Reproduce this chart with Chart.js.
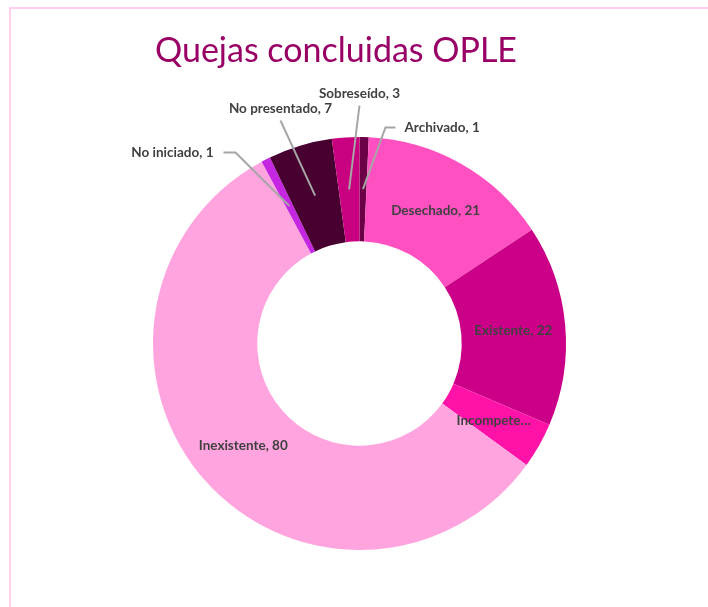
<!DOCTYPE html>
<html>
<head>
<meta charset="utf-8">
<script src="https://cdn.jsdelivr.net/npm/chart.js@4.4.1/dist/chart.umd.min.js"></script>
<style>
  html, body { margin: 0; padding: 0; background: #fff; }
  #wrap { position: relative; width: 708px; height: 607px; overflow: hidden; }
  #frame {
    position: absolute; left: 9px; top: 7px; right: -10px; bottom: -10px;
    border-top: 2px solid #ffd0ee; border-left: 2px solid #ffd0ee;
  }
  #chart { position: absolute; left: 0; top: 0; }
</style>
</head>
<body>
<div id="wrap">
  <div id="frame"></div>
  <canvas id="chart" width="708" height="607"></canvas>
</div>
<script>
// Data
const categories = ['Archivado', 'Desechado', 'Existente', 'Incompetencia', 'Inexistente', 'No iniciado', 'No presentado', 'Sobreseído'];
const values = [1, 21, 22, 5, 80, 1, 7, 3];
const sliceColors = ['#6c0046', '#ff50c2', '#cc0088', '#ff12a8', '#ffa4df', '#c426e2', '#470030', '#c9007f'];
const chartTitle = 'Quejas concluidas OPLE';

const labelFont = 'bold 13.5px Lato, "Open Sans", sans-serif';
const labelColor = '#404040';
const leaderColor = '#a6a6a6';

// Label placement for the small slices (offsets from the chart centre, px).
// bend: elbow of the leader line; tip: where the line stops near the text
const outsideLabels = {
  0: { text: { dx: 45, dy: -216, align: 'left' }, bend: { dx: 26, dy: -216 }, tip: { dx: 36, dy: -216 } },
  7: { text: { dx: 0, dy: -250, align: 'center' }, tip: { dx: 0, dy: -238 } },
  6: { text: { dx: -79, dy: -235, align: 'center' }, tip: { dx: -79, dy: -223 } },
  5: { text: { dx: -146, dy: -191, align: 'right' }, bend: { dx: -124, dy: -191 }, tip: { dx: -136, dy: -191 } },
};

function fitText(ctx, str, maxW) {
  if (ctx.measureText(str).width <= maxW) return str;
  let s = str;
  while (s.length > 1 && ctx.measureText(s + '…').width > maxW) s = s.slice(0, -1);
  return s + '…';
}

const labelPlugin = {
  id: 'sliceLabels',
  afterDatasetsDraw(c) {
    const { ctx } = c;
    const meta = c.getDatasetMeta(0);
    ctx.save();
    ctx.font = labelFont;
    ctx.fillStyle = labelColor;
    ctx.textBaseline = 'middle';
    meta.data.forEach((arc, i) => {
      const txt = `${categories[i]}, ${values[i]}`;
      const pos = arc.tooltipPosition();
      const cx = arc.x;
      const cy = arc.y;
      const out = outsideLabels[i];
      if (!out) {
        // narrow slices get a shortened label, like the office chart
        const midR = (arc.innerRadius + arc.outerRadius) / 2;
        const arcLen = (arc.endAngle - arc.startAngle) * midR;
        const shown = arcLen < 60 ? fitText(ctx, txt, 78) : txt;
        ctx.textAlign = 'center';
        ctx.fillText(shown, pos.x, pos.y + 1);
        return;
      }
      // leader line
      ctx.strokeStyle = leaderColor;
      ctx.lineWidth = 2;
      ctx.beginPath();
      ctx.moveTo(pos.x, pos.y);
      if (out.bend) {
        ctx.lineTo(cx + out.bend.dx, cy + out.bend.dy);
      }
      ctx.lineTo(cx + out.tip.dx, cy + out.tip.dy);
      ctx.stroke();
      ctx.textAlign = out.text.align;
      ctx.fillText(txt, cx + out.text.dx, cy + out.text.dy);
    });
    ctx.restore();
  },
};

const titlePlugin = {
  id: 'slideTitle',
  afterDraw(c) {
    const { ctx } = c;
    ctx.save();
    ctx.font = '34px Lato, "Open Sans", sans-serif';
    ctx.fillStyle = '#990066';
    ctx.textAlign = 'center';
    ctx.textBaseline = 'alphabetic';
    ctx.fillText(chartTitle, 336, 62);
    ctx.restore();
  },
};

const ctx = document.getElementById('chart');
// eslint-disable-next-line no-unused-vars
const chart = new Chart(ctx, {
  type: 'doughnut',
  data: {
    labels: categories,
    datasets: [
      {
        data: values,
        backgroundColor: sliceColors,
        borderWidth: 0,
      },
    ],
  },
  options: {
    responsive: false,
    animation: false,
    cutout: '49.5%',
    layout: {
      padding: {
        top: 137, bottom: 57, left: 153, right: 142,
      },
    },
    plugins: {
      legend: { display: false },
      tooltip: { enabled: false },
      title: { display: false },
    },
  },
  plugins: [labelPlugin, titlePlugin],
});
</script>
</body>
</html>
